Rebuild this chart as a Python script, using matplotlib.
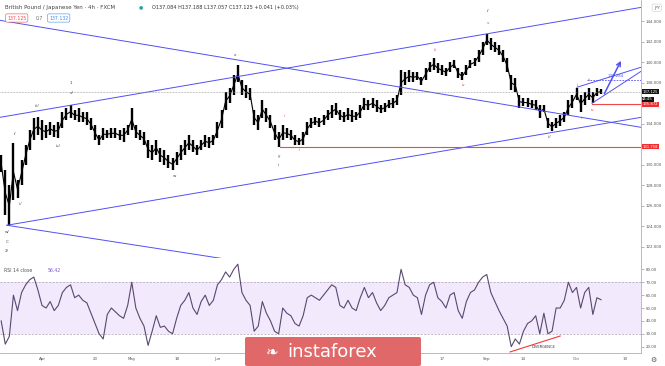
import matplotlib
matplotlib.use("Agg")
import matplotlib.pyplot as plt
from matplotlib.patches import FancyBboxPatch
import numpy as np
import pandas as pd

# GBP/JPY, one bar per trading day, Mar 18 .. Oct 9 2020 (x = 0 on Apr 1)
days = pd.bdate_range("2020-03-18", "2020-10-09")
axis_days = pd.bdate_range("2020-03-18", "2020-10-30")

hi = [130.92, 129.46, 128.00, 132.09, 128.49, 130.44, 131.90, 133.36, 134.53, 134.62,
      134.33, 133.85, 134.14, 133.85, 134.14, 135.11, 135.50, 135.79, 135.31, 135.50,
      135.11, 135.11, 134.53, 133.85, 132.87, 133.55, 133.36, 133.55, 133.55, 133.36,
      133.55, 133.85, 135.50, 133.85, 133.36, 133.16, 132.38, 131.90, 132.38, 131.61,
      131.41, 130.92, 130.63, 131.22, 131.90, 132.38, 132.87, 132.38, 131.90, 132.38,
      132.87, 132.68, 132.87, 134.14, 135.31, 137.06, 137.45, 138.71, 139.69, 138.23,
      137.74, 137.45, 135.31, 134.82, 136.28, 135.50, 134.82, 133.85, 133.16, 133.85,
      133.55, 133.36, 132.87, 132.58, 133.16, 134.14, 134.53, 134.62, 134.53, 134.82,
      135.31, 135.79, 135.99, 135.31, 135.11, 135.50, 135.31, 135.11, 135.79, 136.47,
      136.28, 136.47, 136.28, 135.79, 135.99, 136.28, 136.47, 136.77, 139.20, 139.01,
      139.20, 139.01, 139.01, 138.52, 139.40, 139.98, 140.37, 139.88, 139.69, 139.40,
      139.98, 140.17, 139.40, 139.01, 139.69, 140.17, 140.37, 141.15, 141.93, 142.70,
      142.32, 141.93, 141.63, 141.15, 140.37, 138.71, 138.42, 136.77, 136.47, 136.47,
      136.28, 136.28, 135.79, 135.79, 134.53, 134.14, 134.53, 134.82, 135.11, 136.28,
      136.77, 137.45, 136.77, 137.06, 137.45, 137.06, 137.45, 137.35]
lo = [129.27, 125.08, 124.01, 126.54, 126.74, 128.00, 129.95, 131.41, 132.38, 132.87,
      132.38, 132.58, 132.87, 132.68, 132.58, 133.55, 134.33, 134.53, 134.33, 134.14,
      134.14, 133.85, 133.36, 132.38, 131.90, 132.38, 132.58, 132.58, 132.58, 132.38,
      132.19, 132.87, 133.36, 132.58, 132.38, 131.90, 130.63, 130.44, 130.92, 130.24,
      129.95, 129.66, 129.46, 129.95, 130.44, 130.92, 131.41, 131.22, 130.92, 131.41,
      131.70, 131.61, 131.90, 132.58, 133.55, 135.31, 135.99, 136.77, 138.03, 136.77,
      136.47, 136.28, 133.85, 133.36, 134.53, 134.14, 133.55, 132.38, 131.76, 132.38,
      132.58, 132.38, 131.90, 131.90, 131.90, 132.87, 133.55, 133.85, 133.65, 133.85,
      134.33, 134.53, 134.82, 134.33, 134.14, 134.33, 134.14, 134.33, 134.53, 135.31,
      135.31, 135.50, 135.11, 135.01, 135.11, 135.50, 135.50, 135.79, 136.77, 137.74,
      138.03, 138.03, 138.23, 137.74, 138.23, 139.01, 139.20, 138.91, 138.71, 138.62,
      139.01, 139.40, 138.42, 138.23, 138.71, 139.40, 139.59, 139.98, 140.66, 141.63,
      141.15, 140.95, 140.66, 139.98, 139.01, 137.25, 137.06, 135.50, 135.70, 135.60,
      135.50, 135.31, 134.53, 135.11, 133.55, 133.26, 133.55, 133.75, 134.14, 134.82,
      135.50, 136.28, 135.11, 135.79, 136.28, 135.99, 136.67, 136.86]
rsi = [40, 22, 28, 60, 48, 62, 68, 72, 74, 64,
       52, 50, 55, 48, 52, 62, 66, 68, 58, 60,
       56, 54, 46, 38, 30, 26, 45, 50, 47, 44,
       42, 52, 70, 50, 42, 36, 21, 32, 44, 35,
       36, 32, 30, 42, 52, 56, 62, 50, 45, 55,
       60, 52, 56, 68, 72, 78, 74, 80, 84, 62,
       56, 52, 32, 36, 55, 46, 40, 32, 30, 50,
       46, 44, 38, 36, 44, 58, 60, 58, 56, 60,
       64, 68, 66, 52, 50, 56, 50, 48, 58, 66,
       58, 62, 54, 48, 52, 58, 60, 62, 80, 68,
       66, 60, 58, 45, 60, 68, 70, 58, 55, 50,
       60, 62, 48, 42, 55, 62, 64, 70, 74, 76,
       62, 55, 48, 42, 36, 20, 26, 22, 32, 38,
       40, 44, 30, 46, 30, 32, 50, 50, 56, 70,
       62, 66, 50, 62, 66, 45, 58, 56.42]

last_price = 137.125
support_1 = 131.758
support_2 = 135.872
target_level = 138.284

# labels that sit under the watermark are left out, as in the picture
tick_dates = ["2020-04-01", "2020-04-20", "2020-05-01", "2020-05-18", "2020-06-01",
              "2020-08-17", "2020-09-01", "2020-09-14", "2020-10-01", "2020-10-19"]
tick_names = ["Apr", "20", "May", "18", "Jun", "17", "Sep", "14", "Oct", "19"]
price_ticks = [122, 124, 126, 128, 130, 132, 134, 136, 138, 140, 142, 144]
hidden_ticks = [132, 136]  # covered by the price flags
rsi_ticks = [20, 30, 40, 50, 60, 70, 80]

# trend lines (x in trading days from Apr 1, price)
upper_channel = [(-10.3, 134.62), (146.8, 145.33)]
lower_channel = [(-8.6, 124.11), (146.8, 134.62)]
falling_top = [(-10.3, 144.07), (146.8, 133.65)]
falling_bottom = [(-8.6, 124.11), (53.4, 120.3)]
wedge_top = [(131.1, 137.55), (146.8, 139.5)]
wedge_bottom = [(134.8, 135.99), (146.8, 139.1)]
arrow_path = [(137.5, 136.67), (142.2, 140.37)]
divergence = [(114.7, 15.9), (127.0, 28.3)]

# wave labels: text, x, price, colour
dark = "#444444"
red = "#e8413c"
wave_labels = [
    ("w/", -8.6, 123.43, dark), ("C", -8.6, 122.45, dark), ("2/", -8.6, 121.57, dark),
    ("i/", -6.6, 132.97, dark), ("ii/", -5.4, 126.2, dark), ("iii/", -1.2, 135.69, dark),
    ("iv/", 3.9, 131.8, dark), ("v/", 7.35, 136.96, dark), ("1", 7.1, 137.93, dark),
    ("w", 32.6, 128.88, dark), ("x", 47.3, 140.66, dark), ("y", 58.1, 130.83, dark),
    ("ii", 58.1, 129.95, dark), ("i/", 109.3, 144.95, dark), ("ii/", 124.3, 132.68, dark),
    ("i", 59.3, 134.72, red), ("ii", 63.2, 131.41, red), ("iii", 96.3, 141.15, red),
    ("iv", 103.2, 137.74, red), ("v", 109.3, 143.78, red), ("i", 131.1, 137.74, red),
    ("iii", 134.1, 138.23, red), ("ii", 132.4, 134.53, red), ("iv", 134.8, 135.31, red),
]

x = np.arange(len(days)) - 10
hi = np.array(hi)
lo = np.array(lo)
blue = "#5050f5"
grey_txt = "#555555"

fig = plt.figure(figsize=(6.65, 3.66), dpi=100)
ax = fig.add_axes([0, 0.2951, 0.9639, 0.7049])
ax_r = fig.add_axes([0, 0.0355, 0.9639, 0.2596], sharex=ax)

# price panel
ax.vlines(x, lo, hi, color="black", lw=1.7)
ax.plot(x, (hi + lo) / 2, color="black", lw=0.8)

for line in [upper_channel, lower_channel, falling_top, falling_bottom, wedge_top, wedge_bottom]:
    ax.plot([p[0] for p in line], [p[1] for p in line], color=blue, lw=0.7)
ax.annotate("", xy=arrow_path[1], xytext=arrow_path[0],
            arrowprops=dict(arrowstyle="->", color=blue, lw=1.1, mutation_scale=7))
ax.plot([133.6, 146.8], [target_level, target_level], color=blue, lw=0.6, ls=(0, (2, 1.5)))
ax.text(140.5, target_level + 0.2, "138.284", color=blue, fontsize=2.8, ha="center", va="bottom")

ax.axhline(last_price, color="#888888", lw=0.5, ls=(0, (1, 1.2)))
ax.plot([58.3, 146.8], [support_1, support_1], color="#f04848", lw=0.8)
ax.plot([134.8, 146.8], [support_2, support_2], color="#f04848", lw=0.8)

for txt, lx, ly, col in wave_labels:
    ax.text(lx, ly, txt, color=col, fontsize=3, ha="center", va="center")

ax.set_xlim(-10.29, 146.8)
ax.set_ylim(120.92, 146.05)
ax.yaxis.tick_right()
ax.set_yticks(price_ticks)
ax.set_yticklabels(["" if v in hidden_ticks else f"{v:.3f}" for v in price_ticks])
ax.tick_params(axis="y", length=2, width=0.5, color="#999999", pad=1.5,
               labelsize=2.9, labelcolor=grey_txt)
ax.tick_params(axis="x", bottom=False, labelbottom=False)
for s in ["top", "left"]:
    ax.spines[s].set_visible(False)
for s in ["right", "bottom"]:
    ax.spines[s].set_color("#b0b0b0")
    ax.spines[s].set_linewidth(0.6)

# price-axis flags
ytr = ax.get_yaxis_transform()
flags = [(last_price, "137.125", "#131313"), (136.36, "44:45", "#131313"),
         (support_2, "135.872", "#f03030"), (support_1, "131.758", "#f03030")]
for val, txt, col in flags:
    ax.text(1.002, val, txt, transform=ytr, fontsize=2.7, color="white", ha="left",
            va="center", bbox=dict(boxstyle="square,pad=0.2", fc=col, ec="none"))
ax.text(1.02, 0.97, "JPY", transform=ax.transAxes, fontsize=3, color=grey_txt, ha="left",
        va="center", bbox=dict(boxstyle="round,pad=0.4", fc="white", ec="#cccccc", lw=0.4))

# header
fig.text(5 / 665, 1 - 7 / 366, "British Pound / Japanese Yen · 4h · FXCM", fontsize=4,
         color="#444444", va="center")
fig.text(141 / 665, 1 - 7 / 366, "●", fontsize=3.5, color="#26a69a", va="center", ha="center")
fig.text(152 / 665, 1 - 7 / 366, "O137.084 H137.188 L137.057 C137.125 +0.041 (+0.03%)",
         fontsize=3.6, color="#333333", va="center")
fig.text(7 / 665, 1 - 18 / 366, "137.125", fontsize=3.3, color="#e84a4a", va="center",
         bbox=dict(boxstyle="round,pad=0.35", fc="white", ec="#e84a4a", lw=0.4))
fig.text(36 / 665, 1 - 18 / 366, "0.7", fontsize=3.3, color="#666666", va="center")
fig.text(49 / 665, 1 - 18 / 366, "137.132", fontsize=3.3, color="#3f8ee8", va="center",
         bbox=dict(boxstyle="round,pad=0.35", fc="white", ec="#3f8ee8", lw=0.4))

# RSI panel
ax_r.axhspan(30, 70, color="#f2e9fc", lw=0)
for lvl in [30, 70]:
    ax_r.axhline(lvl, color="#a8a0b4", lw=0.5, ls=(0, (3, 2)))
ax_r.plot(x, rsi, color="#5a4870", lw=0.8)
ax_r.plot([p[0] for p in divergence], [p[1] for p in divergence], color="#f03a3a", lw=0.8)
ax_r.text(122.8, 19.5, "DIVERGENCE", fontsize=2.6, color="#333333", ha="center", va="center")
ax_r.text(0.006, 0.87, "RSI 14 close", transform=ax_r.transAxes, fontsize=3.3,
          color=grey_txt, va="center")
ax_r.text(0.075, 0.87, "56.42", transform=ax_r.transAxes, fontsize=3.3,
          color="#7e57c2", va="center")
ax_r.set_ylim(15.1, 88.8)
ax_r.yaxis.tick_right()
ax_r.set_yticks(rsi_ticks)
ax_r.set_yticklabels([f"{v:.2f}" for v in rsi_ticks])
ax_r.tick_params(axis="y", length=2, width=0.5, color="#999999", pad=1.5,
                 labelsize=2.9, labelcolor=grey_txt)
tick_pos = [axis_days.get_loc(pd.Timestamp(d)) - 10 for d in tick_dates]
ax_r.set_xticks(tick_pos)
ax_r.set_xticklabels(tick_names)
ax_r.tick_params(axis="x", length=0, pad=3, labelsize=2.9, labelcolor=grey_txt)
for s in ["top", "left"]:
    ax_r.spines[s].set_visible(False)
for s in ["right", "bottom"]:
    ax_r.spines[s].set_color("#b0b0b0")
    ax_r.spines[s].set_linewidth(0.6)
fig.text(653 / 665, 6 / 366, "⚙", fontsize=5, color="#555555", ha="center", va="center")

# instaforex watermark
logo = FancyBboxPatch((245 / 665, 0), 176 / 665, 29 / 366, boxstyle="round,pad=0,rounding_size=0.004",
                      transform=fig.transFigure, fc="#e06868", ec="none", zorder=10)
fig.patches.append(logo)
fig.text(332 / 665, 14 / 366, "instaforex", fontsize=13, color="white", ha="center",
         va="center", zorder=11)
fig.text(272 / 665, 14 / 366, "❧", fontsize=11, color="white", ha="center",
         va="center", zorder=11)

fig.savefig("out.png", dpi=100)
